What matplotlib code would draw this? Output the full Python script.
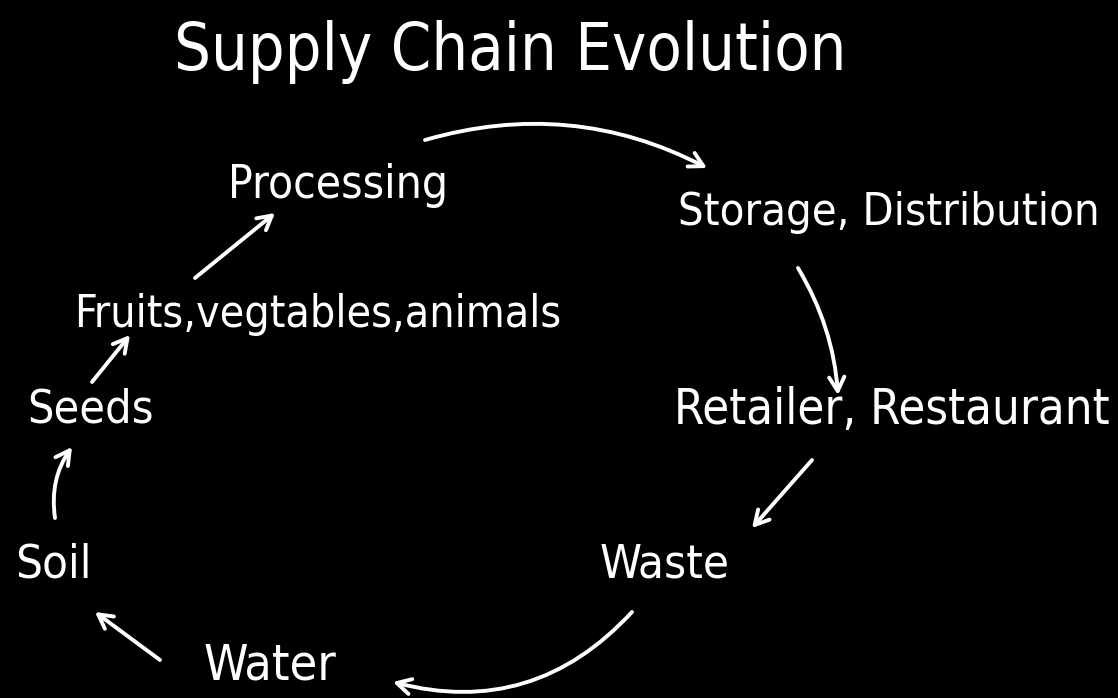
import matplotlib.pyplot as plt

# Diagram content: stage labels and where they sit (pixel grid of the picture)
title = 'Supply Chain Evolution'
stages = ['Processing', 'Storage, Distribution', 'Retailer, Restaurant', 'Waste',
          'Water', 'Soil', 'Seeds', 'Fruits,vegtables,animals']
stage_x = [338, 889, 892, 665, 270, 53, 90, 318]
stage_y = [185, 212, 410, 565, 665, 565, 410, 315]

# arrows: start -> end, with curvature
arrow_start = [(425, 140), (798, 268), (812, 460), (632, 612), (160, 660), (55, 518), (92, 382), (195, 278)]
arrow_end = [(707, 168), (838, 395), (752, 528), (393, 682), (95, 612), (72, 447), (130, 335), (275, 213)]
arrow_rad = [-0.2, -0.12, 0.0, -0.3, 0.0, -0.2, 0.0, 0.0]

# text sizes (hand lettering varies a bit per label)
stage_size = [33, 32.5, 35, 34, 36, 34, 33.5, 32]

W, H = 1118, 698
plt.rcParams['font.family'] = ['DejaVu Sans']

fig = plt.figure(figsize=(W / 100, H / 100), dpi=100, facecolor='black')
ax = fig.add_axes([0, 0, 1, 1])
ax.set_facecolor('black')
ax.set_xlim(0, W)
ax.set_ylim(H, 0)
ax.axis('off')

ax.text(510, 52, title, color='white', fontsize=46.5, fontstretch='condensed',
        ha='center', va='center')

for label, x, y, fs in zip(stages, stage_x, stage_y, stage_size):
    ax.text(x, y, label, color='white', fontsize=fs, fontstretch='condensed',
            ha='center', va='center')

for (x0, y0), (x1, y1), rad in zip(arrow_start, arrow_end, arrow_rad):
    ax.annotate('', xy=(x1, y1), xytext=(x0, y0),
                arrowprops=dict(arrowstyle='->,head_length=1.0,head_width=0.55',
                                color='white', lw=2.8,
                                connectionstyle='arc3,rad=%s' % rad,
                                shrinkA=0, shrinkB=0))

fig.savefig('out.png', dpi=100, facecolor='black')
